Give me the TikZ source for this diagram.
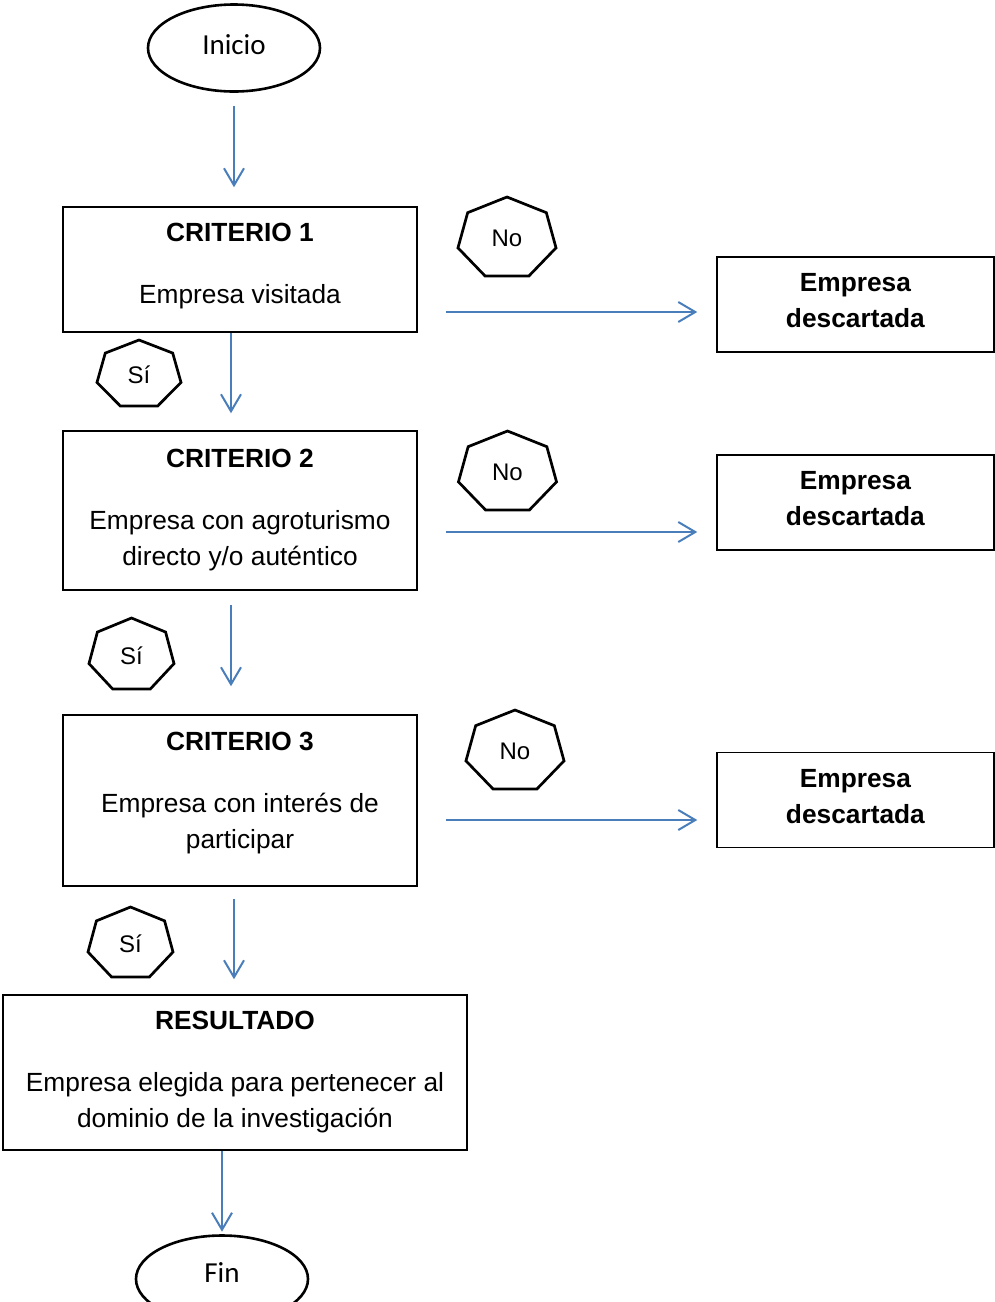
\documentclass[tikz,border=0pt]{standalone}
\usepackage{fontspec}
\setmainfont{Liberation Sans}
\newfontfamily\calibri{Carlito}
\usetikzlibrary{shapes.geometric,arrows.meta}
\definecolor{azul}{HTML}{4A7EBB}
\tikzset{
  caja/.style={draw, line width=0.75pt, align=center, inner sep=0pt,
    font=\fontsize{13.15}{18}\selectfont},
  descarte/.style={caja, minimum width=138.5pt, minimum height=47.5pt, text depth=4pt},
  termino/.style={draw, ellipse, line width=1.3pt, minimum width=86pt,
    minimum height=43.5pt, inner sep=0pt, font=\calibri\fontsize{14.5}{17}\selectfont},
  etiq/.style={inner sep=0pt, font=\fontsize{12}{14}\selectfont},
  hepta/.style={line width=1.35pt, line join=miter},
  flecha/.style={azul, line width=1pt, -{Straight Barb[length=8.5pt,width=10pt]}}
}
\begin{document}
\begin{tikzpicture}[x=0.5pt,y=-0.5pt]
\useasboundingbox (0,0) rectangle (995,1302);
\clip (0,0) rectangle (995,1302);
% terminales
\node[termino, text depth=3pt] (inicio) at (234,48) {Inicio};
\node[termino, text depth=6pt] (fin) at (222,1279) {Fin};
% criterios
\node[caja, minimum width=177pt, minimum height=62.5pt, text depth=5.8pt] (c1) at (240,269.5)
  {\textbf{CRITERIO 1}\\[13pt]Empresa visitada};
\node[caja, minimum width=177pt, minimum height=79.5pt] (c2) at (240,510.5)
  {\textbf{CRITERIO 2}\\[13pt]Empresa con agroturismo\\directo y/o auténtico};
\node[caja, minimum width=177pt, minimum height=85.5pt, text depth=10.5pt] (c3) at (240,800.5)
  {\textbf{CRITERIO 3}\\[13pt]Empresa con interés de\\participar};
\node[caja, minimum width=232pt, minimum height=77.5pt] (res) at (235,1072.5)
  {\textbf{RESULTADO}\\[13pt]Empresa elegida para pertenecer al\\dominio de la investigación};
% descartes
\node[descarte] (d1) at (855.5,304.5) {\textbf{Empresa}\\\textbf{descartada}};
\node[descarte] (d2) at (855.5,502.5) {\textbf{Empresa}\\\textbf{descartada}};
\node[descarte] (d3) at (855.5,800) {\textbf{Empresa}\\\textbf{descartada}};
% etiquetas Si / No
\foreach \n/\x/\y/\rx/\ry/\t in {no1/507/238.6/50.3/41.6/No, no2/507.5/472.6/50.3/41.6/No,
    no3/515/751.6/50.3/41.6/No, si1/139/374.7/43.1/34.7/Sí,
    si2/131.5/655.3/43.6/37.3/Sí, si3/130.5/943.8/43.6/36.8/Sí}{
  \node[etiq] (\n) at (\x,\y) {\t};
  \draw[hepta, shift={(\n.center)}] (0,-\ry)
    \foreach \k in {1,...,6}{ -- ({\rx*cos(-90+\k*360/7)},{\ry*sin(-90+\k*360/7)})} -- cycle;
}
% flujo
\draw[flecha, shorten <=6.75pt, shorten >=9.5pt] (inicio.south) -- (inicio.south |- c1.north);
\draw[flecha, shorten >=8.5pt] ([xshift=-4.5pt]c1.south) -- ([xshift=-4.5pt]c2.north);
\draw[flecha, shorten <=7pt, shorten >=14pt] ([xshift=-4.5pt]c2.south) -- ([xshift=-4.5pt]c3.north);
\draw[flecha, shorten <=6pt, shorten >=7.5pt] ([xshift=-3pt]c3.south) -- ([xshift=-3pt]c3.south |- res.north);
\draw[flecha, shorten >=1.25pt] (res.south -| fin.north) -- (fin.north);
\draw[flecha, shorten <=14pt, shorten >=9.5pt] ([yshift=-3.75pt]d1.west -| c1.east) -- ([yshift=-3.75pt]d1.west);
\draw[flecha, shorten <=14pt, shorten >=9.5pt] ([yshift=-14.75pt]d2.west -| c2.east) -- ([yshift=-14.75pt]d2.west);
\draw[flecha, shorten <=14pt, shorten >=9.5pt] ([yshift=-10pt]d3.west -| c3.east) -- ([yshift=-10pt]d3.west);
\end{tikzpicture}
\end{document}
